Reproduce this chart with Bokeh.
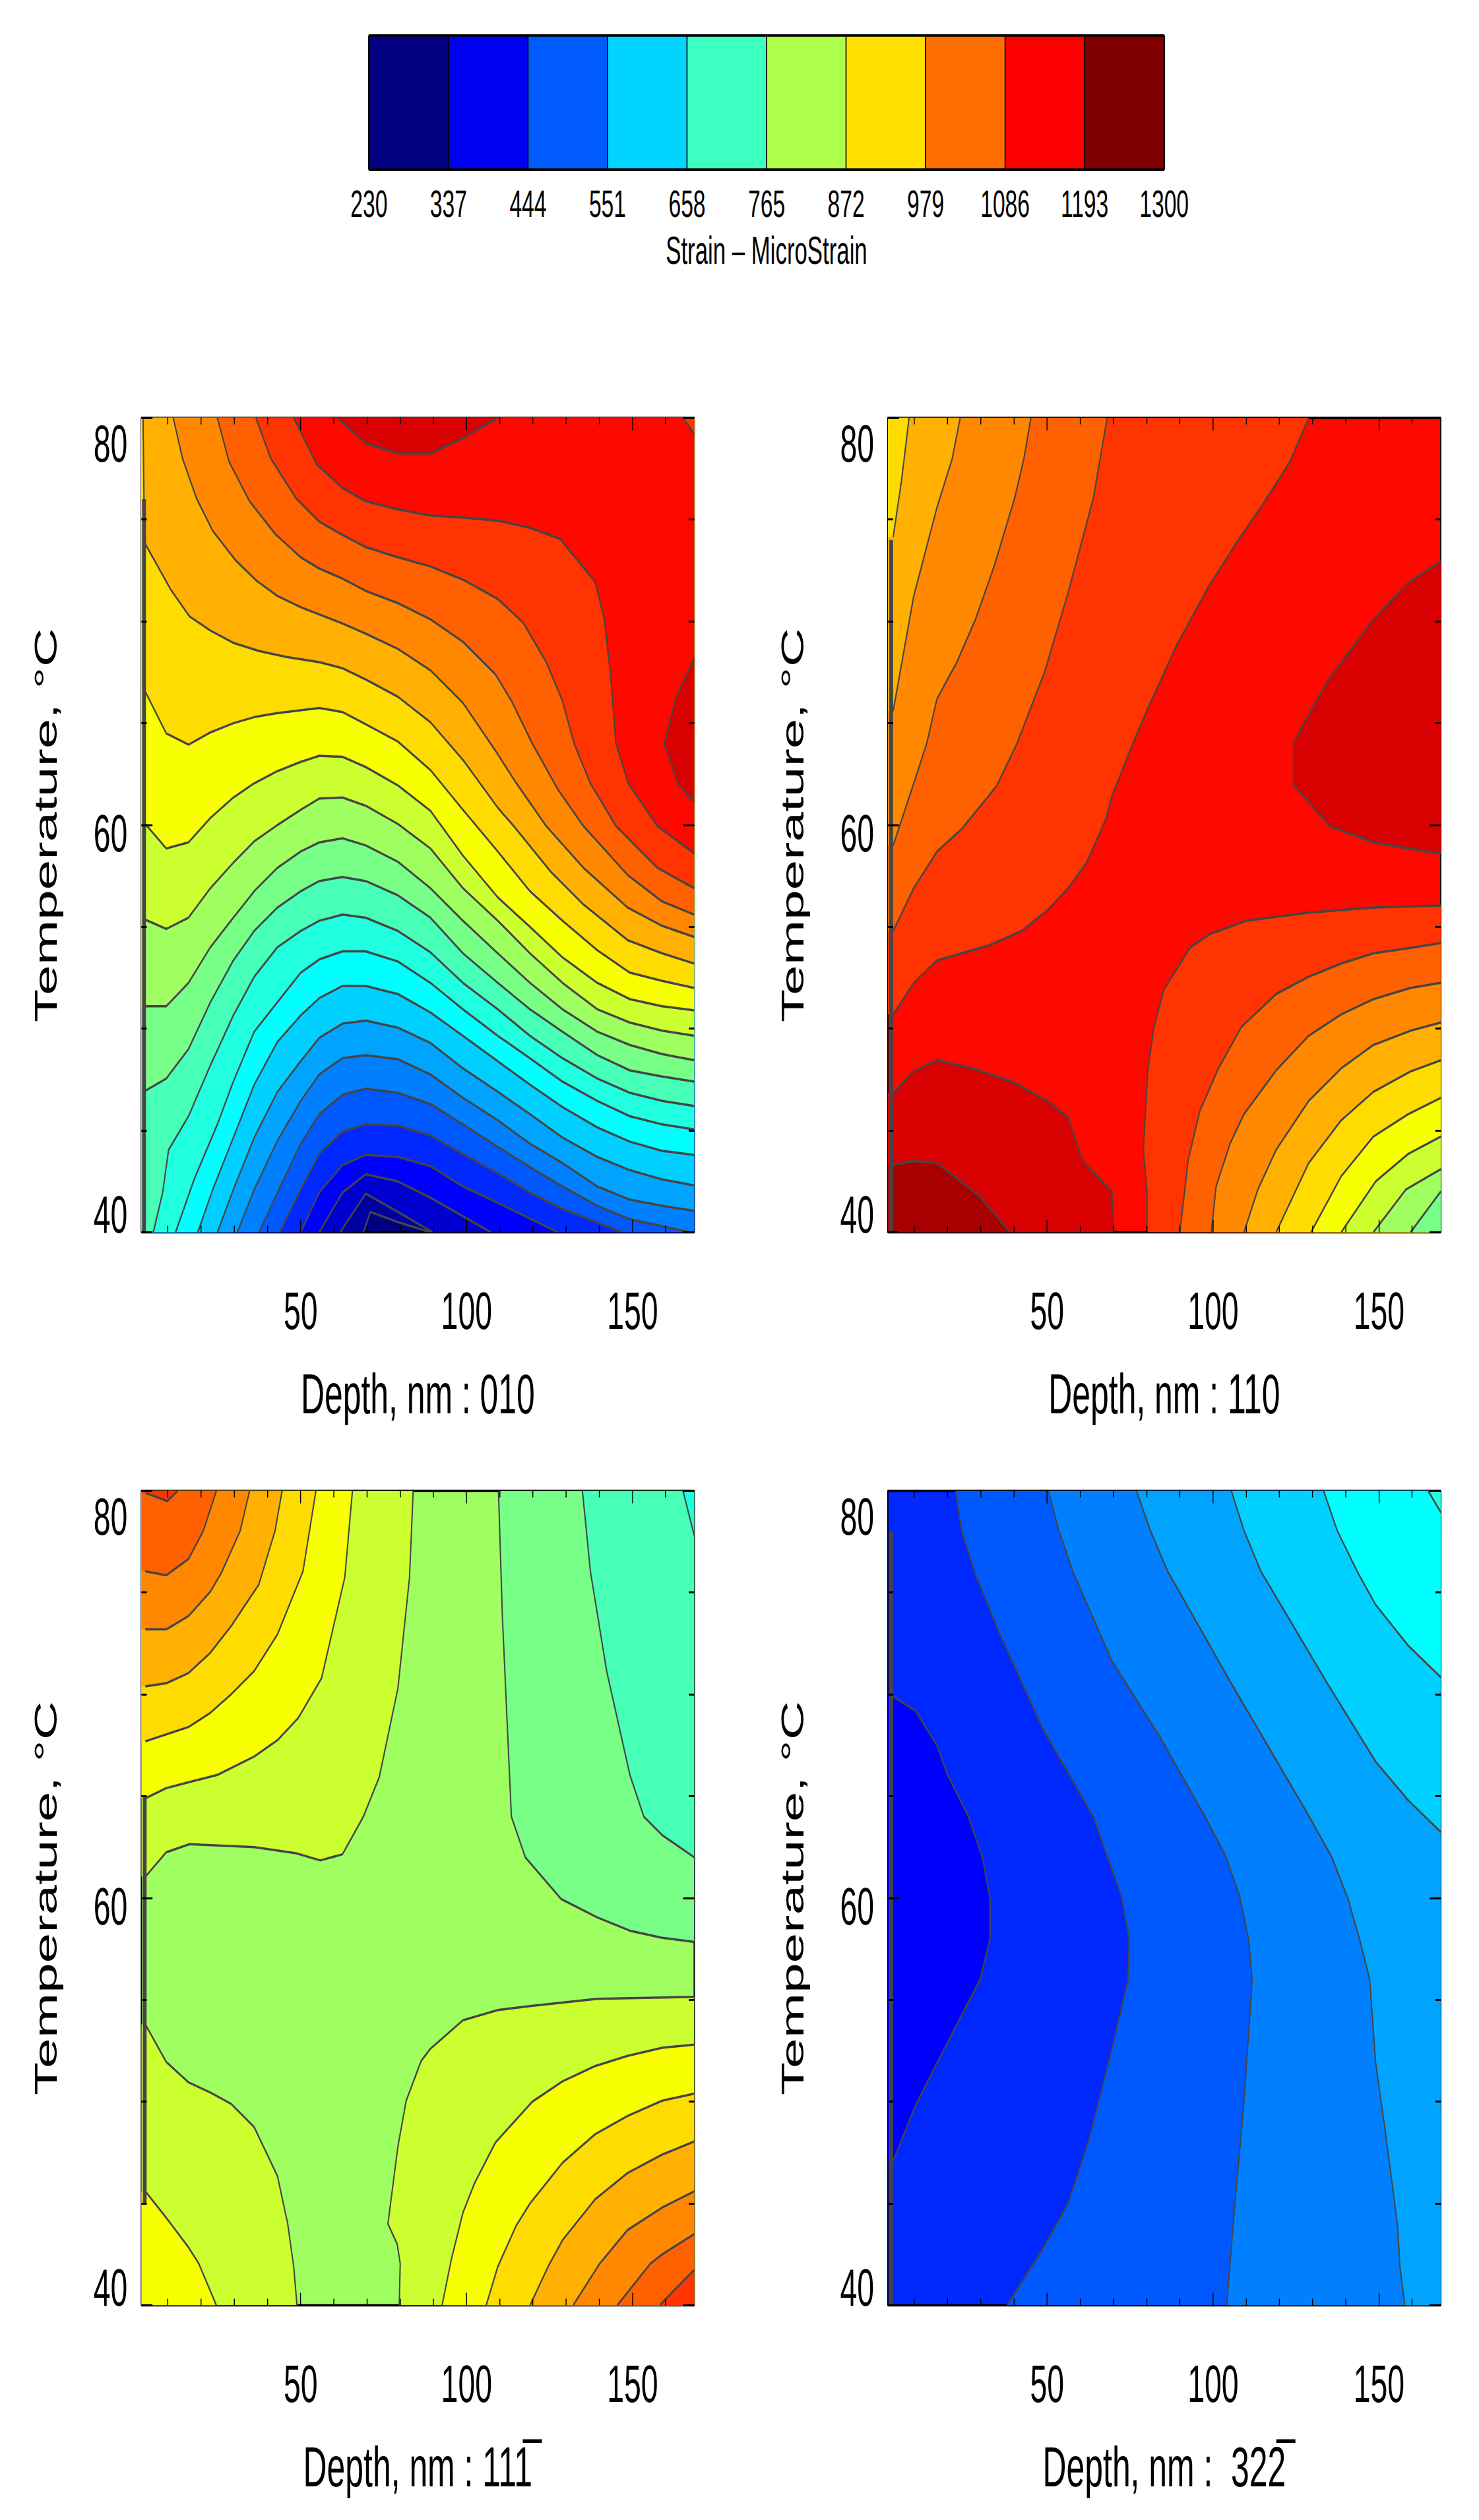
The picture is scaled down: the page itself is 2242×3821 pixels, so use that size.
from bokeh.plotting import figure
from bokeh.layouts import column, row
from bokeh.models import FixedTicker, LinearAxis, Range1d, CustomJS
from bokeh.document import Document
from bokeh.embed import file_html
from bokeh.resources import INLINE

# ---------- colour bar ----------
bar_ticks = [230, 337, 444, 551, 658, 765, 872, 979, 1086, 1193, 1300]
bar_colors = ["#000080", "#0000F0", "#005CFF", "#00D4FF", "#3CFFC2", "#AEFF4A",
              "#FFE000", "#FF6E00", "#FF0000", "#800000"]
bar_title = "Strain \u2013 MicroStrain"

# contour band colours, lowest strain first
bands = ["#000080", "#0000A0", "#0000D0", "#0000FF", "#0028FF", "#0058FF", "#0080FF",
         "#00A4FF", "#00D0FF", "#00FFFF", "#20FFE0", "#48FFB8", "#78FF88", "#A0FF60",
         "#CCFF30", "#F8FF00", "#FFDC00", "#FFB000", "#FF8800", "#FF6000", "#FF3400",
         "#FF0800", "#D80000", "#A80000", "#800000"]

depth_major = [50, 100, 150]
depth_minor = [10, 20, 30, 40, 60, 70, 80, 90, 110, 120, 130, 140, 160]
temp_major = [40, 60, 80]
temp_minor = [45, 50, 55, 65, 70, 75]
# the reference prints its temperature labels displaced from their ticks
temp_label_at = [40.87, 59.61, 78.74]
DEPTH_MIN, DEPTH_MAX = 2.0, 168.6
TEMP_MIN, TEMP_MAX = 40.0, 80.0

# ---------- panel 010: isolines (depth nm, temperature C) ----------
a_k1_x = [68.9, 71, 79.3, 89.1]
a_k1_t = [40, 41, 40.5, 40]
a_k2_x = [61.9, 69.6, 79.3, 89.8]
a_k2_t = [40, 41.9, 41, 40]
a_k3_x = [55.6, 62.6, 69.6, 79.3, 89.1, 107.3]
a_k3_t = [40, 41.95, 42.85, 42.5, 41.7, 40]
a_k4_x = [50, 55.6, 62.6, 69.6, 79.3, 89.1, 98.9, 109.4, 127.5]
a_k4_t = [40, 41.95, 43.3, 43.8, 43.7, 43.25, 42.25, 41.45, 40]
a_k5_x = [43.7, 50, 55.6, 62.6, 69.6, 79.3, 89.1, 98.9, 109.4, 119.1, 128.9, 147]
a_k5_t = [40, 42.1, 43.85, 44.95, 45.3, 45.25, 44.75, 43.85, 42.9, 41.95, 41.15, 40]
a_k6_x = [37.4, 43, 50, 55.6, 62.6, 69.6, 79.3, 89.1, 98.9, 109.4, 119.1, 128.9, 139.4, 149.2, 167.3]
a_k6_t = [40, 41.95, 44.35, 45.8, 46.75, 47.05, 46.85, 46.3, 45.3, 44.2, 43.2, 42.25, 41.3, 40.65, 40]
a_k7_x = [30.9, 36, 43, 50, 55.6, 62.6, 69.6, 79.3, 89.1, 98.9, 109.4, 119.1, 128.9, 139.4, 149.2, 158.9, 168.6]
a_k7_t = [40, 42.1, 44.5, 46.45, 47.75, 48.55, 48.7, 48.5, 47.75, 46.6, 45.5, 44.35, 43.4, 42.25, 41.6, 41.3, 41.05]
a_k8_x = [24.9, 29.7, 36, 43, 50, 55.6, 62.6, 69.6, 79.3, 89.1, 98.9, 109.4, 119.1, 128.9, 139.4, 149.2, 158.9, 168.6]
a_k8_t = [40, 42.1, 44.65, 46.9, 48.4, 49.55, 50.25, 50.4, 50.05, 49.3, 48.05, 46.9, 45.8, 44.65, 43.7, 43.05, 42.6, 42.3]
a_k9_x = [19, 23.5, 29.7, 36, 43, 50, 55.6, 62.6, 69.6, 79.3, 89.1, 98.9, 109.4, 119.1, 128.9, 139.4, 149.2, 158.9, 168.6]
a_k9_t = [40, 42.1, 44.65, 47.25, 49.35, 50.65, 51.5, 52.1, 52.1, 51.7, 50.8, 49.65, 48.4, 47.25, 46.15, 45.15, 44.45, 44, 43.8]
a_k10_x = [12.3, 17.9, 24.9, 29.7, 36, 43, 50, 55.6, 62.6, 69.6, 79.3, 89.1, 98.9, 109.4, 119.1, 128.9, 139.4, 149.2, 158.9, 168.6]
a_k10_t = [40, 42.6, 45.3, 47.4, 49.85, 51.3, 52.75, 53.4, 53.8, 53.8, 53.3, 52.25, 50.95, 49.65, 48.55, 47.4, 46.45, 45.7, 45.3, 45.05]
a_k11_x = [5.6, 8.4, 10.2, 16.2, 22.8, 29.7, 36, 43, 50, 55.6, 62.6, 69.6, 79.3, 89.1, 98.9, 109.4, 119.1, 128.9, 139.4, 149.2, 158.9, 168.6]
a_k11_t = [40, 41.95, 44.05, 45.7, 48.2, 50.65, 52.55, 54, 54.8, 55.3, 55.6, 55.45, 54.8, 53.75, 52.25, 50.95, 49.65, 48.55, 47.55, 46.85, 46.45, 46.2]
a_k12_x = [3.2, 9.5, 16.2, 22.8, 29.7, 36, 43, 50, 55.6, 62.6, 69.6, 79.3, 89.1, 98.9, 109.4, 119.1, 128.9, 139.4, 149.2, 158.9, 168.6]
a_k12_t = [46.95, 47.55, 49, 51.3, 53.35, 54.8, 55.95, 56.75, 57.25, 57.45, 57.25, 56.55, 55.45, 53.7, 52.25, 50.95, 49.85, 48.7, 47.95, 47.65, 47.4]
a_k13_x = a_k12_x
a_k13_t = [51.1, 51.1, 52.25, 54, 55.45, 56.75, 57.9, 58.7, 59.15, 59.35, 59, 58.2, 56.9, 55.3, 53.7, 52.25, 50.95, 49.85, 49.2, 48.75, 48.45]
a_k14_x = a_k12_x
a_k14_t = [55.35, 54.9, 55.45, 56.9, 58.15, 59.2, 60, 60.75, 61.3, 61.35, 60.95, 60.05, 58.85, 56.9, 55.3, 53.7, 52.25, 50.95, 50.3, 49.9, 49.65]
a_k15_x = a_k12_x
a_k15_t = [60.05, 58.85, 59.15, 60.35, 61.35, 62.05, 62.65, 63.1, 63.4, 63.35, 62.85, 61.95, 60.7, 58.5, 56.45, 55, 53.5, 52.25, 51.45, 51.1, 50.9]
a_k16_x = [3.2, 9.5, 16.2, 22.8, 29.7, 36, 43, 55.6, 62.6, 69.6, 79.3, 89.1, 98.9, 109.4, 119.1, 128.9, 139.4, 149.2, 158.9, 168.6]
a_k16_t = [66.55, 64.5, 63.95, 64.55, 65, 65.3, 65.5, 65.75, 65.55, 64.95, 64.1, 62.7, 60.75, 58.7, 56.75, 55.3, 53.85, 52.75, 52.35, 52]
a_k17_x = [2.5, 2.8, 3.2, 10.9, 16.5, 22.8, 29.7, 37.4, 45.8, 55.6, 62.6, 69.6, 79.3, 89.1, 98.9, 109.4, 114.2, 125.4, 135.2, 148.5, 158.9, 168.6]
a_k17_t = [80, 75.75, 73.8, 71.55, 70.25, 69.55, 68.95, 68.55, 68.25, 68, 67.7, 67.15, 66.3, 65.05, 63.2, 60.85, 59.95, 57.7, 56.1, 54.35, 53.7, 53.2]
a_k18_x = [11.6, 14.4, 18.6, 23.5, 30.4, 36.7, 43, 50, 62.6, 69.6, 79.3, 89.1, 98.9, 108.7, 115, 124, 135.2, 148.5, 158.9, 168.6]
a_k18_t = [80, 78, 76.05, 74.45, 73, 72, 71.25, 70.7, 69.9, 69.4, 68.65, 67.6, 66, 63.65, 62.05, 59.95, 57.9, 55.95, 55.05, 54.5]
a_k19_x = [24.9, 28.4, 34.6, 42.3, 50, 55.6, 62.6, 69.6, 79.3, 89.1, 98.9, 108.7, 113.5, 119.8, 127.5, 135.2, 148.5, 158.9, 168.6]
a_k19_t = [80, 77.85, 75.9, 74.3, 73.15, 72.6, 72.1, 71.5, 70.9, 70.1, 69, 67.4, 66.1, 64, 61.75, 59.95, 57.55, 56.25, 55.6]
a_k20_x = [36.5, 41, 48.6, 55.6, 62.6, 69.6, 79.3, 89.1, 98.9, 109.4, 117, 124, 128.9, 132.4, 137.3, 145, 157.5, 168.6]
a_k20_t = [80, 78, 76.05, 74.9, 74.25, 73.65, 73.15, 72.7, 72.05, 71.1, 69.95, 68, 66.1, 64, 62.05, 59.95, 57.9, 56.9]
a_k21_x = [47.9, 54.9, 62.6, 69.6, 79.3, 89.1, 98.9, 109.4, 119.1, 128.2, 138.7, 141.5, 143.3, 145, 148.7, 157.5, 168.6]
a_k21_t = [80, 77.7, 76.55, 75.9, 75.5, 75.2, 75.1, 74.95, 74.6, 74.05, 71.95, 70.1, 67.5, 64, 62.05, 59.95, 58.6]
a_cap_x = [61.2, 69.6, 79.3, 89.1, 98.9, 109.4]
a_cap_t = [80, 78.75, 78.25, 78.25, 79, 80]
a_side_x = [168.6, 163.1, 159.6, 163.8, 168.6]
a_side_t = [68.2, 66.25, 64, 62, 61.15]
a_dip_x = [165.2, 168.6]
a_dip_t = [80, 79.2]
a_edge_t = [40, 76]

# ---------- panel 110 ----------
b_a_x = [128.8, 123.2, 115.6, 107.2, 98.8, 89.1, 80, 75.8, 69.5, 67.7, 61.9, 56.3, 50, 42.3, 32.6, 16.8, 9.8, 3.6]
b_a_t = [80, 77.85, 75.9, 73.9, 71.75, 68.85, 65.6, 64, 61.4, 60.3, 58.15, 56.9, 55.8, 54.8, 54.1, 53.35, 52.25, 50.7]
b_b_x = [68.1, 63.9, 56.3, 49.3, 40.9, 34.7, 24.2, 16.8, 9.8, 3.6]
b_b_t = [80, 76.05, 71.4, 67.55, 64, 61.9, 59.8, 58.7, 56.9, 54.8]
b_c_x = [45.1, 43, 40.2, 34, 28.4, 22.8, 16.8, 13.7, 9.8, 3.6]
b_c_t = [80, 78, 76.05, 72.7, 70.1, 68, 66.2, 64, 62.05, 59]
b_d_x = [23.8, 21.4, 16.8, 9.8, 3.6]
b_d_t = [80, 78, 75.6, 71.25, 65.6]
b_e_x = [8.4, 6.1, 3.6]
b_e_t = [80, 76.9, 74.15]
b_f_x = [3.6, 9.8, 16.8, 28.4, 39.5, 50, 56.3, 60.5, 69.5, 70.2]
b_f_t = [46.85, 47.9, 48.45, 48, 47.4, 46.45, 45.65, 43.55, 42, 40]
b_g_x = [3.6, 9.8, 16.8, 29.4, 38.8]
b_g_t = [43.3, 43.5, 43.4, 41.8, 40]
b_h_x = [168.6, 158.8, 148.3, 134.4, 124.2, 124.2, 135.1, 148.3, 158.8, 168.6]
b_h_t = [72.95, 71.9, 70.1, 67.05, 64.05, 62, 59.95, 59.15, 58.85, 58.6]
b_1_x = [168.6, 148.3, 128.8, 110, 99.1, 93.2, 85.1, 82.1, 80.3, 79, 80.1, 80.1]
b_1_t = [56.05, 55.95, 55.7, 55.3, 54.65, 54, 51.9, 50, 47.9, 44.05, 41.95, 40]
b_2_x = [168.6, 158.8, 148.3, 138.6, 128.8, 119, 108.6, 101.6, 96, 92.5, 90]
b_2_t = [54.2, 53.95, 53.7, 53.2, 52.55, 51.7, 50.1, 48.05, 45.95, 43.55, 40]
b_3_x = [168.6, 159.5, 148.3, 138.6, 128.8, 119, 109.3, 105.1, 100.9, 99.5]
b_3_t = [52.25, 52, 51.45, 50.7, 49.65, 47.95, 45.8, 44.35, 42.25, 40]
b_4_x = [168.6, 159.5, 148.3, 138.6, 128.8, 119, 113.5, 109.3]
b_4_t = [50.3, 49.9, 49.2, 48.05, 46.45, 44.05, 42.1, 40]
b_5_x = [168.6, 159.5, 148.3, 138.6, 128.8, 119]
b_5_t = [48.45, 47.9, 46.9, 45.5, 43.4, 40]
b_6_x = [168.6, 158.8, 148.3, 138.6, 129.5]
b_6_t = [46.6, 45.8, 44.7, 42.75, 40]
b_7_x = [168.6, 158.8, 149, 138.6]
b_7_t = [44.7, 43.85, 42.5, 40]
b_8_x = [168.6, 158.1, 148.3]
b_8_t = [43.1, 42.1, 40]
b_9_x = [168.6, 159.5]
b_9_t = [42, 40]
b_edge_t = [40, 74]

# ---------- panel 111-bar ----------
c_a_x = [83.9, 82.8, 79.3, 73.7, 68.9, 62.6, 55.9, 48.6, 36, 16.5, 9.5, 3.2]
c_a_t = [80, 75.75, 70.3, 65.95, 64, 62.15, 61.85, 62.2, 62.5, 62.65, 62.25, 61.05]
c_b_x = [65.6, 63.3, 56.3, 49.3, 43, 36, 24.9, 16.5, 9.5, 3.2]
c_b_t = [80, 75.75, 70.8, 68.85, 67.75, 66.95, 66.05, 65.7, 65.4, 64.9]
c_c_x = [54.6, 50.7, 43, 36, 29, 22.8, 16.2, 3.2]
c_c_t = [80, 76.05, 72.95, 71.15, 70, 69.1, 68.4, 67.7]
c_d_x = [44.4, 42.3, 37.4, 29, 22.8, 16.2, 9.5, 3.2]
c_d_t = [80, 78.05, 75.4, 73.35, 72.05, 71.05, 70.55, 70.4]
c_e_x = [34.6, 31.8, 26.2, 22.8, 16.2, 9.5, 3.2]
c_e_t = [80, 78.05, 76, 75.05, 73.85, 73.2, 73.2]
c_f_x = [24.6, 20.7, 16.2, 9.5, 3.2]
c_f_t = [80, 78.05, 76.65, 75.85, 76.05]
c_g_x = [3.2, 9.8, 13]
c_g_t = [79.9, 79.5, 80]
c_h_x = [3.2, 9.5, 16.2, 22.8, 29, 36, 43, 46.1, 47.9, 48.9]
c_h_t = [53.8, 51.95, 50.95, 50.45, 49.9, 48.75, 46.35, 44, 41.9, 40]
c_i_x = [3.2, 9.5, 16.2, 19.3, 24.6]
c_i_t = [45.6, 44.3, 42.85, 42.05, 40]
c_m_x = [168.6, 139.4, 119.1, 109.4, 98.9, 89.1, 86.3, 81.8, 79.3, 76.3, 79.1, 80, 79.7]
c_m_t = [55.15, 55.05, 54.7, 54.5, 54, 52.6, 52, 50.05, 47.8, 44, 43, 42.05, 40]
c_n_x = [168.6, 158.9, 148.5, 138.7, 128.9, 119.8, 108.7, 102.4, 98.9, 95.4, 92.6]
c_n_t = [52.8, 52.65, 52.25, 51.75, 51, 50, 48, 46, 44.55, 42.25, 40]
c_o_x = [168.6, 158.9, 148.5, 138.7, 128.9, 119.1, 114.9, 109.4, 105.9]
c_o_t = [50.4, 50.05, 49.3, 48.4, 47, 45, 43.9, 41.9, 40]
c_p_x = [168.6, 158.9, 148.5, 138.7, 128.9, 124.7, 119.1]
c_p_t = [48.05, 47.4, 46.5, 45.2, 43.2, 41.95, 40]
c_q_x = [168.6, 158.9, 148.5, 140.1, 132.1]
c_q_t = [45.6, 44.8, 43.7, 42.05, 40]
c_r_x = [168.6, 158.9, 155.4, 145.4]
c_r_t = [43.5, 42.5, 42.05, 40]
c_s_x = [168.6, 159.6, 158.2]
c_s_t = [41.75, 40.25, 40]
c_t_x = [109.6, 110.8, 113.5, 117.7, 128.5, 139.4, 149.2, 158.9, 168.6]
c_t_t = [80, 73.75, 64, 62, 59.95, 59.05, 58.4, 58.05, 57.85]
c_u_x = [134.9, 137.3, 142.2, 149.2, 153.4, 158.9, 168.6]
c_u_t = [80, 76.05, 71.15, 66.05, 64, 63.1, 62]
c_v_x = [165.2, 168.6]
c_v_t = [80, 77.8]
c_edge_t = [45, 65]

# ---------- panel 322-bar ----------
d_1_x = [3.6, 10.3, 16.8, 20, 26.3, 30.5, 32.8, 32.8, 29.8, 16.8, 10.3, 3.6]
d_1_t = [69.9, 69.2, 67.5, 66.05, 64, 62, 59.95, 58, 56, 51.9, 49.8, 47.1]
d_2_x = [22.4, 24.2, 28.4, 35.4, 48.6, 63.9, 72.3, 74.7, 74.4, 68.8, 62.6, 56.3, 48.6, 37.9]
d_2_t = [80, 78.05, 75.9, 73.1, 68.35, 64, 60.15, 58, 56, 52.1, 48.15, 45, 42.75, 40]
d_3_x = [50.4, 53.5, 57.7, 69.5, 84.2, 97.4, 103.7, 107.9, 110.7, 111.8, 109.3, 106.5, 104.1]
d_3_t = [80, 78.05, 76.05, 71.65, 67.85, 64.05, 62.1, 60.15, 58, 56, 49.95, 44.85, 40]
d_4_x = [76.9, 81.1, 86.3, 105.1, 128.8, 135.8, 140.7, 144.1, 147.2, 149, 152.5, 155.6, 156.3, 157.8]
d_4_t = [80, 78.05, 76.05, 70.65, 64.05, 62, 59.95, 58, 56, 51.9, 47.8, 43.9, 41.9, 40]
d_5_x = [105.5, 109.3, 114.4, 134.4, 149, 158.8, 168.6]
d_5_t = [80, 78.05, 76.05, 70.55, 66.7, 64.8, 63.25]
d_6_x = [133.3, 137.4, 143.4, 149, 158.8, 168.6]
d_6_t = [80, 78.05, 76.05, 74.4, 72.4, 70.85]
d_7_x = [164.8, 168.6]
d_7_t = [80, 78.95]
d_edge_t = [40, 78]

# painting order: (depth, temperature, band index, corners that close the region)
panel_a = [(a_k1_x, a_k1_t, 1, "BR TR TL BL"), (a_k2_x, a_k2_t, 2, "BR TR TL BL"),
           (a_k3_x, a_k3_t, 3, "BR TR TL BL"), (a_k4_x, a_k4_t, 4, "BR TR TL BL"),
           (a_k5_x, a_k5_t, 5, "BR TR TL BL"), (a_k6_x, a_k6_t, 6, "BR TR TL BL"),
           (a_k7_x, a_k7_t, 7, "TR TL BL"), (a_k8_x, a_k8_t, 8, "TR TL BL"),
           (a_k9_x, a_k9_t, 9, "TR TL BL"), (a_k10_x, a_k10_t, 10, "TR TL BL"),
           (a_k11_x, a_k11_t, 11, "TR TL BL"), (a_k12_x, a_k12_t, 12, "TR TL"),
           (a_k13_x, a_k13_t, 13, "TR TL"), (a_k14_x, a_k14_t, 14, "TR TL"),
           (a_k15_x, a_k15_t, 15, "TR TL"), (a_k16_x, a_k16_t, 16, "TR TL"),
           (a_k17_x, a_k17_t, 17, "TR TL"), (a_k18_x, a_k18_t, 18, "TR"),
           (a_k19_x, a_k19_t, 19, "TR"), (a_k20_x, a_k20_t, 20, "TR"),
           (a_k21_x, a_k21_t, 21, "TR"), (a_cap_x, a_cap_t, 22, ""),
           (a_side_x, a_side_t, 22, ""), (a_dip_x, a_dip_t, 20, "TR")]
panel_b = [(b_a_x, b_a_t, 20, "TL"), (b_b_x, b_b_t, 19, "TL"), (b_c_x, b_c_t, 18, "TL"),
           (b_d_x, b_d_t, 17, "TL"), (b_e_x, b_e_t, 16, "TL"), (b_f_x, b_f_t, 22, "BL"),
           (b_g_x, b_g_t, 23, "BL"), (b_h_x, b_h_t, 22, ""), (b_1_x, b_1_t, 20, "BR"),
           (b_2_x, b_2_t, 19, "BR"), (b_3_x, b_3_t, 18, "BR"), (b_4_x, b_4_t, 17, "BR"),
           (b_5_x, b_5_t, 16, "BR"), (b_6_x, b_6_t, 15, "BR"), (b_7_x, b_7_t, 14, "BR"),
           (b_8_x, b_8_t, 13, "BR"), (b_9_x, b_9_t, 12, "BR")]
panel_c = [(c_a_x, c_a_t, 14, "TL"), (c_b_x, c_b_t, 15, "TL"), (c_c_x, c_c_t, 16, "TL"),
           (c_d_x, c_d_t, 17, "TL"), (c_e_x, c_e_t, 18, "TL"), (c_f_x, c_f_t, 19, "TL"),
           (c_g_x, c_g_t, 20, "TL"), (c_h_x, c_h_t, 14, "BL"), (c_i_x, c_i_t, 15, "BL"),
           (c_m_x, c_m_t, 14, "BR"), (c_n_x, c_n_t, 15, "BR"), (c_o_x, c_o_t, 16, "BR"),
           (c_p_x, c_p_t, 17, "BR"), (c_q_x, c_q_t, 18, "BR"), (c_r_x, c_r_t, 19, "BR"),
           (c_s_x, c_s_t, 20, "BR"), (c_t_x, c_t_t, 12, "TR"), (c_u_x, c_u_t, 11, "TR"),
           (c_v_x, c_v_t, 10, "TR")]
panel_d = [(d_1_x, d_1_t, 3, ""), (d_2_x, d_2_t, 5, "BR TR"), (d_3_x, d_3_t, 6, "BR TR"),
           (d_4_x, d_4_t, 7, "BR TR"), (d_5_x, d_5_t, 8, "TR"), (d_6_x, d_6_t, 9, "TR"),
           (d_7_x, d_7_t, 10, "TR")]

CORNERS = {"TL": (DEPTH_MIN, TEMP_MAX), "TR": (DEPTH_MAX, TEMP_MAX),
           "BL": (DEPTH_MIN, TEMP_MIN), "BR": (DEPTH_MAX, TEMP_MIN)}

# The source picture is anamorphic: everything is squeezed sideways.
SQUEEZE = 0.58
TOTAL_W = 3852
LINE = "#454545"
FONT = "Liberation Sans"


def make_panel(lines, base, edge_t, edge_x, title, left, right, bottom):
    p = figure(width=left + 1445 + right, height=40 + 1235 + bottom,
               min_border_left=left, min_border_right=right, min_border_top=40,
               min_border_bottom=bottom, toolbar_location=None, output_backend="svg",
               x_range=Range1d(DEPTH_MIN, DEPTH_MAX), y_range=Range1d(TEMP_MIN, TEMP_MAX))
    p.grid.visible = False
    p.outline_line_color = "black"
    p.outline_line_width = 3.5
    p.background_fill_color = bands[base]

    for xs, ts, band, closing in lines:
        px, pt = list(xs), list(ts)
        if px[0] < 5:
            px.insert(0, DEPTH_MIN); pt.insert(0, ts[0])
        if px[-1] < 5:
            px.append(DEPTH_MIN); pt.append(ts[-1])
        for name in closing.split():
            px.append(CORNERS[name][0]); pt.append(CORNERS[name][1])
        p.patch(px, pt, fill_color=bands[band], line_color=None)
    for xs, ts, band, closing in lines:
        p.line(xs, ts, line_color=LINE, line_width=3.5)
    p.line([edge_x, edge_x], edge_t, line_color=LINE, line_width=10)

    xticker = FixedTicker(ticks=depth_major, minor_ticks=depth_minor)
    yticker = FixedTicker(ticks=temp_major, minor_ticks=temp_minor)
    blank_y = {t: "" for t in temp_major}
    blank_x = {t: "" for t in depth_major}

    xa = p.xaxis[0]
    xa.ticker = xticker
    xa.axis_label = title
    xa.axis_label_text_font = FONT
    xa.axis_label_text_font_size = "86px"
    xa.axis_label_text_font_style = "normal"
    xa.axis_label_text_color = "black"
    xa.axis_label_standoff = 47
    xa.major_label_text_font = FONT
    xa.major_label_text_font_size = "80px"
    xa.major_label_standoff = 92
    xa.major_label_text_color = "black"

    ya = p.yaxis[0]
    ya.ticker = yticker
    ya.major_label_overrides = blank_y
    ya.major_label_text_font_size = "1px"
    ya.major_label_standoff = 0

    # second left axis: carries the printed temperature labels and the title
    ylab = LinearAxis(ticker=FixedTicker(ticks=temp_label_at),
                      major_label_overrides={at: str(t) for at, t in zip(temp_label_at, temp_major)})
    ylab.major_label_text_font = FONT
    ylab.major_label_text_font_size = "80px"
    ylab.major_label_text_color = "black"
    ylab.major_label_standoff = 30
    ylab.axis_line_color = None
    ylab.major_tick_line_color = None
    ylab.minor_tick_line_color = None
    ylab.axis_label = "Temperature, \u00b0C"
    ylab.axis_label_text_font = FONT
    ylab.axis_label_text_font_size = "82px"
    ylab.axis_label_text_font_style = "normal"
    ylab.axis_label_text_color = "black"
    ylab.axis_label_standoff = 76
    p.add_layout(ylab, "left")

    top = LinearAxis(ticker=xticker, major_label_overrides=blank_x, major_label_text_font_size="1px",
                     major_label_standoff=0)
    side = LinearAxis(ticker=yticker, major_label_overrides=blank_y, major_label_text_font_size="1px",
                      major_label_standoff=0)
    p.add_layout(top, "above")
    p.add_layout(side, "right")

    for ax in (xa, top):
        ax.axis_line_color = None
        ax.major_tick_in, ax.major_tick_out = 19, 0
        ax.minor_tick_in, ax.minor_tick_out = 10, 0
        ax.major_tick_line_width = 2.5
        ax.minor_tick_line_width = 2.5
    for ax in (ya, side):
        ax.axis_line_color = None
        ax.major_tick_in, ax.major_tick_out = 29, 0
        ax.minor_tick_in, ax.minor_tick_out = 14, 0
        ax.major_tick_line_width = 3
        ax.minor_tick_line_width = 3
    return p


bar = figure(width=TOTAL_W, height=593, min_border_left=964, min_border_right=810,
             min_border_top=54, min_border_bottom=337, toolbar_location=None,
             output_backend="svg", x_range=Range1d(bar_ticks[0], bar_ticks[-1]), y_range=Range1d(0, 1))
bar.grid.visible = False
bar.yaxis.visible = False
bar.outline_line_color = "black"
bar.outline_line_width = 5
bar.quad(left=bar_ticks[:-1], right=bar_ticks[1:], bottom=0, top=1, fill_color=bar_colors,
         line_color="black", line_width=2.5)
bx = bar.xaxis[0]
bx.ticker = FixedTicker(ticks=bar_ticks)
bx.axis_line_color = None
bx.major_tick_line_color = None
bx.minor_tick_line_color = None
bx.major_label_text_font = FONT
bx.major_label_text_font_size = "58px"
bx.major_label_text_color = "black"
bx.major_label_standoff = 27
bx.axis_label = bar_title
bx.axis_label_text_font = FONT
bx.axis_label_text_font_size = "60px"
bx.axis_label_text_font_style = "normal"
bx.axis_label_text_color = "black"
bx.axis_label_standoff = 14

p1 = make_panel(panel_a, 0, a_edge_t, 2.8, "Depth, nm : 010", 369, 151, 352)
p2 = make_panel(panel_b, 21, b_edge_t, 3.0, "Depth, nm : 110", 355, 87, 352)
p3 = make_panel(panel_c, 13, c_edge_t, 3.0, "Depth, nm : 11\u0031\u0305", 369, 151, 300)
p4 = make_panel(panel_d, 4, d_edge_t, 3.0, "Depth, nm :\u00a0\u00a032\u0032\u0305", 355, 87, 300)

root = column(bar, row(p1, p2), row(p3, p4))

# Squeeze only after Bokeh has laid the figures out, since it measures the transformed box.
doc = Document()
doc.add_root(root)
doc.js_on_event("document_ready", CustomJS(args=dict(s=SQUEEZE), code="""
    const el = Bokeh.index.roots[0].el;
    el.style.transformOrigin = "0 0";
    el.style.transform = `scaleX(${s})`;
"""))

open("out.html", "w").write(file_html(doc, INLINE))
